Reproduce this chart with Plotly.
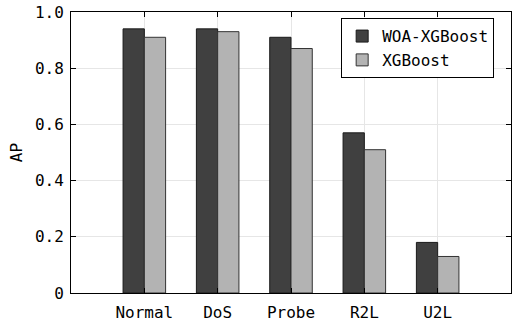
import plotly.graph_objects as go

categories = ["Normal", "DoS", "Probe", "R2L", "U2L"]
woa_xgboost = [0.94, 0.94, 0.91, 0.57, 0.18]
xgboost = [0.91, 0.93, 0.87, 0.51, 0.13]
y_ticks = [0, 0.2, 0.4, 0.6, 0.8, 1.0]
y_tick_labels = ["0", "0.2", "0.4", "0.6", "0.8", "1.0"]

FONT = "DejaVu Sans Mono, Liberation Mono, monospace"

fig = go.Figure()
fig.add_trace(go.Bar(x=categories, y=woa_xgboost, name="WOA-XGBoost",
                     marker=dict(color="#404040", line=dict(color="#1a1a1a", width=1))))
fig.add_trace(go.Bar(x=categories, y=xgboost, name="XGBoost",
                     marker=dict(color="#b3b3b3", line=dict(color="#333333", width=1))))

fig.update_layout(
    width=519, height=325,
    margin=dict(l=71, r=8, t=12, b=32, autoexpand=False),
    paper_bgcolor="white", plot_bgcolor="white",
    barmode="group", bargap=0.42, bargroupgap=0,
    font=dict(family=FONT, size=16, color="black"),
    legend=dict(x=0.614, y=0.978, xanchor="left", yanchor="top",
                bordercolor="black", borderwidth=1, bgcolor="white",
                font=dict(size=16), itemwidth=30, tracegroupgap=0),
)
fig.update_xaxes(
    range=[-1, 5], showline=True, linecolor="black", linewidth=1, mirror="ticks",
    ticks="inside", ticklen=5, tickcolor="black", automargin=False,
    ticklabelstandoff=5,
    showgrid=True, gridcolor="#e6e6e6", gridwidth=1,
    tickfont=dict(family=FONT, size=16),
)
fig.update_yaxes(
    range=[0, 1.0], tickvals=y_ticks, ticktext=y_tick_labels,
    showline=True, linecolor="black", linewidth=1, mirror="ticks",
    ticks="inside", ticklen=5, tickcolor="black", automargin=False,
    ticklabeloverflow="allow", ticklabelstandoff=3,
    showgrid=True, gridcolor="#e6e6e6", gridwidth=1, zeroline=False,
    title=dict(text="AP", standoff=8, font=dict(family=FONT, size=16)),
    tickfont=dict(family=FONT, size=16),
)

fig.write_html("out.html",
               config={"displayModeBar": False},
               post_script="document.body.style.margin='0';document.body.style.overflow='hidden';")
